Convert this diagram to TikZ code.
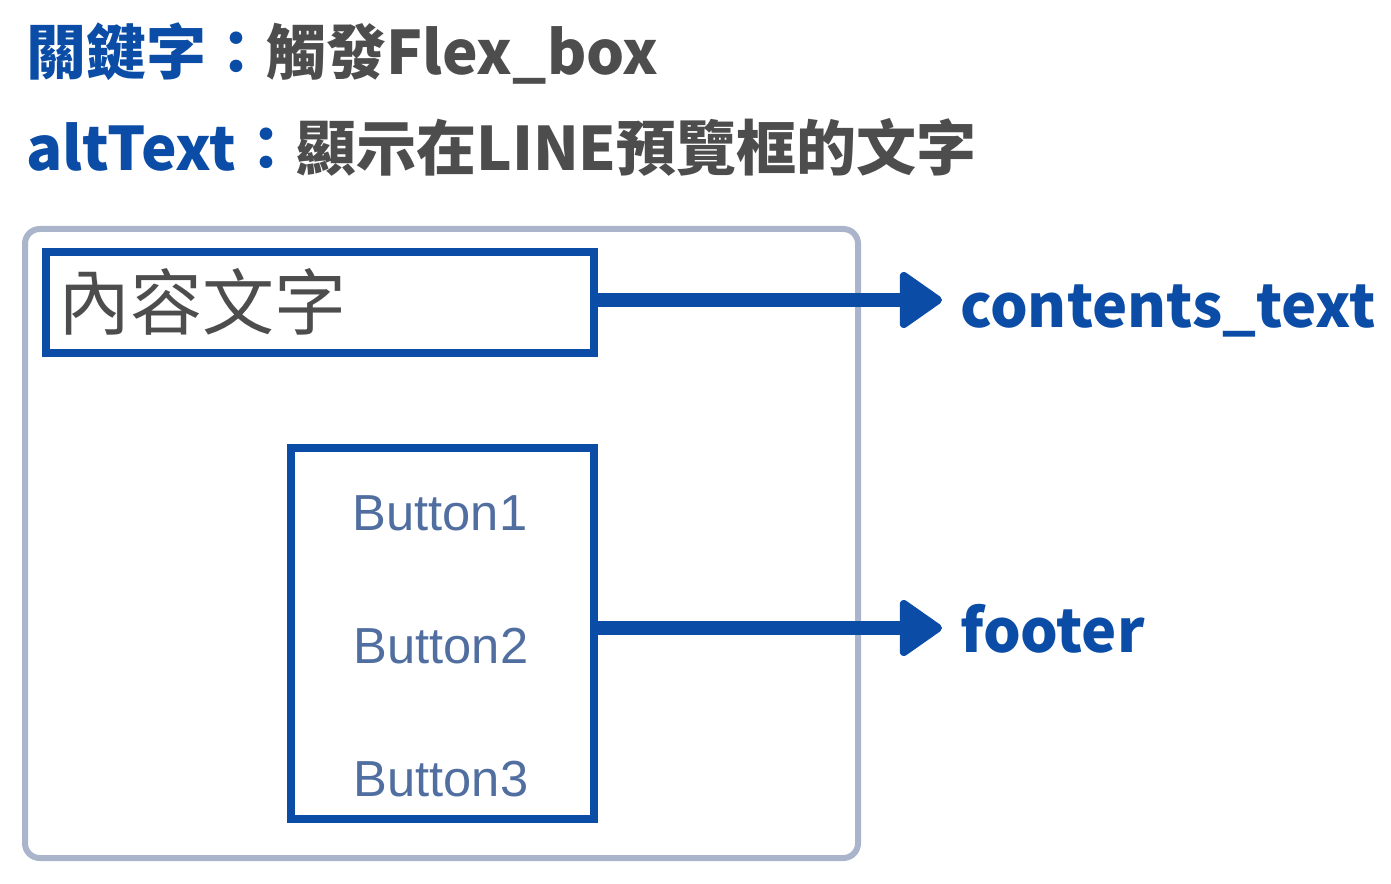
\documentclass[tikz,border=0pt]{standalone}
\usepackage{fontspec}
\usepackage{tikz}
\usetikzlibrary{arrows.meta}
\setmainfont{Noto Sans CJK TC}
\newfontfamily\btnfont{Liberation Sans}
\definecolor{keyblue}{RGB}{11,77,166}
\definecolor{darkgrey}{RGB}{77,77,77}
\definecolor{framegrey}{RGB}{170,180,202}
\definecolor{btnblue}{RGB}{80,110,160}

\begin{document}
\begin{tikzpicture}[x=0.75pt,y=0.75pt,yscale=-1,xscale=1,
  bluebox/.style={draw=keyblue,line width=6pt,inner sep=0pt},
  flowarrow/.style={draw=keyblue,line width=10.5pt,-{Triangle[length=34pt,width=46pt,round,line width=6pt]}},
  headtext/.style={anchor=base west,inner sep=0pt,text=darkgrey,font=\fontsize{45}{52}\selectfont\bfseries},
  labeltext/.style={anchor=base west,inner sep=0pt,text=keyblue,font=\fontsize{44.5}{52}\selectfont\bfseries},
  btntext/.style={anchor=base,inner sep=0pt,text=btnblue,font=\btnfont\fontsize{38}{44}\selectfont}]
\useasboundingbox (0,0) rectangle (1391,884);
% Text Node
\node [headtext] (keyline) at (26,75) {{\color{keyblue}關鍵字：}觸發Flex\_box};
% Text Node
\node [headtext] (altline) at (26,171) {{\color{keyblue}altText：}顯示在LINE預覽框的文字};
%Rounded Rect
\draw [draw=framegrey,line width=4.5pt,rounded corners=11pt] (25,229) rectangle (858,858);
%Shape: Rectangle
\node [bluebox,minimum width=411pt,minimum height=75.75pt] (contentsbox) at (320,302.5) {};
% Text Node
\node [anchor=west,inner sep=0pt,text=darkgrey,font=\fontsize{54}{60}\selectfont] (contentsword) at (58,302) {內容文字};
%Shape: Rectangle
\node [bluebox,minimum width=227.25pt,minimum height=278.25pt] (footerbox) at (442.5,633.5) {};
% Text Node
\node [btntext] (btnone) at (440,530) {Button1};
% Text Node
\node [btntext] (btntwo) at (441,663) {Button2};
% Text Node
\node [btntext] (btnthree) at (441,796) {Button3};
%Straight Lines
\coordinate (contentstip) at (942,300);
\draw [flowarrow] (contentsbox.east |- contentstip) -- (contentstip);
%Straight Lines
\coordinate (footertip) at (942,628);
\draw [flowarrow] (footerbox.east |- footertip) -- (footertip);
% Text Node
\node [labeltext] (contentslabel) at (960,327) {contents\_text};
% Text Node
\node [labeltext] (footerlabel) at (960,652) {footer};
\end{tikzpicture}
\end{document}
